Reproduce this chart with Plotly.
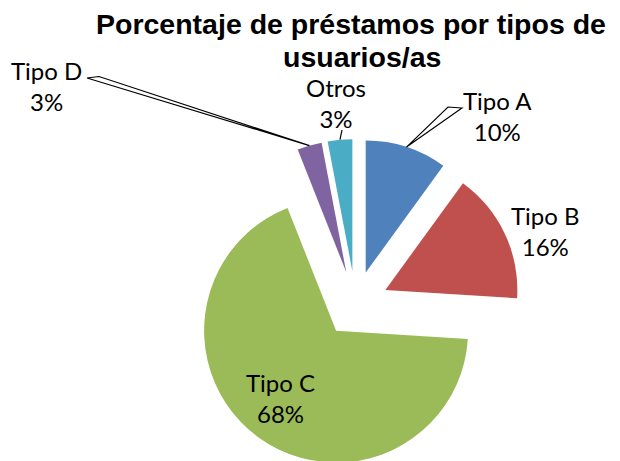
import math
import plotly.graph_objects as go

# ---- data ----
categories = ["Tipo A", "Tipo B", "Tipo C", "Tipo D", "Otros"]
values = [10, 16, 68, 3, 3]
colors = ["#4F81BD", "#C0504D", "#9BBB59", "#8064A2", "#4BACC6"]
title_lines = ["Porcentaje de préstamos por tipos de", "usuarios/as"]

# ---- layout geometry ----
W, H = 620, 461
OFF = 8  # page body margin: figure is drawn 8px right/down of the window origin
PULL = 0.25
CX_S, CY_S = 355.5, 304.0          # pie centre in window pixels
CX, CY = CX_S - OFF, CY_S - OFF     # pie centre in figure pixels
half = H - CY
R = half / (1 + PULL)
D = R * PULL

# label block centres (window pixels)
label_pos = {
    "Tipo A": (497, 116),
    "Tipo B": (545, 231),
    "Tipo C": (280, 398),
    "Tipo D": (47, 86),
    "Otros": (336, 103),
}
# leader outline points (window pixels), slice end added from geometry
leader_start = {
    "Tipo A": [(462, 108), (448, 107)],
    "Tipo D": [(87, 78), (99, 76.5)],
    "Otros": [(342, 130)],
}
title_pos = [(351, 33), (362, 66)]  # centre x, baseline y (window pixels)


def px(x, y):
    """window pixels -> paper coordinates"""
    return (x - OFF) / W, 1 - (y - OFF) / H


fig = go.Figure(
    go.Pie(
        labels=categories,
        values=values,
        sort=False,
        direction="clockwise",
        rotation=0,
        pull=[PULL] * len(values),
        marker=dict(colors=colors, line=dict(width=0)),
        textinfo="none",
        hoverinfo="label+percent",
        showlegend=False,
        domain=dict(x=[(CX - 200) / W, (CX + 200) / W], y=[0, 2 * half / H]),
    )
)

total = sum(values)
annotations = []
shapes = []
cum = 0.0
for cat, v in zip(categories, values):
    frac_mid = (cum + v / 2) / total
    cum += v
    pct = round(v / total * 100)
    lx, ly = label_pos[cat]
    ax_, ay_ = px(lx, ly)
    annotations.append(
        dict(
            x=ax_, y=ay_, xref="paper", yref="paper",
            text=f"{cat}<br>{pct}%", showarrow=False,
            xanchor="center", yanchor="middle",
            font=dict(family="Lato, Calibri, sans-serif", size=24, color="#000000"),
        )
    )
    if cat in leader_start:
        ang = 2 * math.pi * frac_mid
        ex = CX_S + (R + D) * math.sin(ang)
        ey = CY_S - (R + D) * math.cos(ang)
        pts = leader_start[cat] + [(ex, ey)]
        path = ""
        for i, (x, y) in enumerate(pts):
            qx, qy = px(x, y)
            path += ("M" if i == 0 else " L") + f" {qx:.5f},{qy:.5f}"
        closed = len(pts) > 2
        if closed:
            path += " Z"
        shapes.append(
            dict(type="path", path=path, xref="paper", yref="paper",
                 fillcolor="#FFFFFF" if closed else None,
                 line=dict(color="#000000", width=1.2))
        )

TSIZE = 28.5
for line, (tx, tb) in zip(title_lines, title_pos):
    qx, qy = px(tx, tb - 0.30 * TSIZE)
    annotations.append(
        dict(
            x=qx, y=qy, xref="paper", yref="paper",
            text=line, showarrow=False, xanchor="center", yanchor="middle",
            font=dict(family="Liberation Sans, Arial, sans-serif", size=TSIZE,
                      color="#000000", weight="bold"),
        )
    )

fig.update_layout(
    width=W, height=H,
    margin=dict(l=0, r=0, t=0, b=0),
    paper_bgcolor="#FFFFFF",
    plot_bgcolor="#FFFFFF",
    annotations=annotations,
    shapes=shapes,
)

fig.write_html("out.html")
